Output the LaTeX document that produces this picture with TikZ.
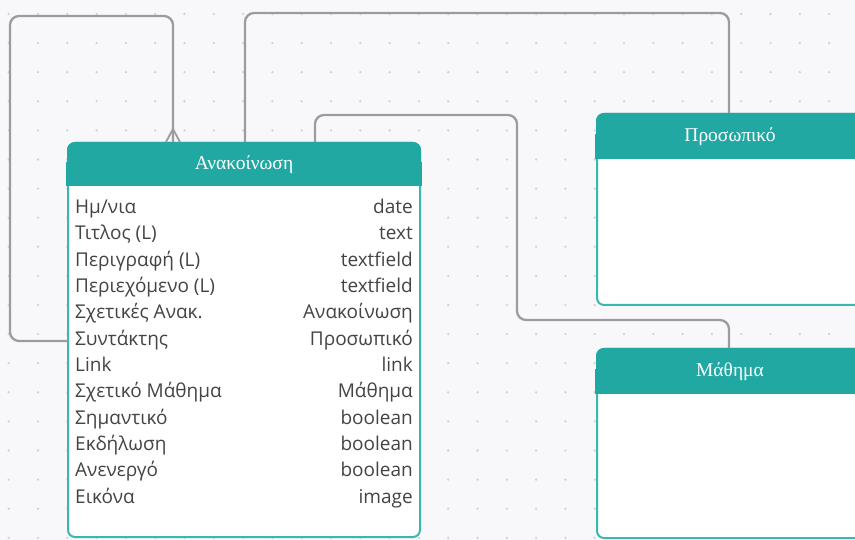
\documentclass[tikz,border=0pt]{standalone}
\usepackage{fontspec}
\setmainfont{Open Sans}
\newfontfamily\titlefont{Liberation Serif}
\usetikzlibrary{calc}
\definecolor{tealH}{RGB}{34,168,163}
\definecolor{tealB}{RGB}{58,184,176}
\definecolor{bgc}{RGB}{248,248,251}
\definecolor{dotc}{RGB}{210,210,220}
\definecolor{linec}{RGB}{156,156,160}
\definecolor{txt}{RGB}{68,68,68}
\begin{document}
\begin{tikzpicture}[x=1pt,y=-1pt,
  entity/.style={draw=tealB, line width=2pt, fill=white, rounded corners=7pt, inner sep=0pt},
  hdr/.style={fill=tealH, draw=tealH, line width=2pt, rounded corners=7pt, inner sep=0pt,
    text=white, font=\titlefont\fontsize{19.5}{22}\selectfont},
  conn/.style={draw=linec, line width=2.3pt, rounded corners=9pt},
  foot/.style={draw=linec, line width=1.8pt},
  fieldL/.style={anchor=base west, inner sep=0pt, text=txt, font=\fontsize{19}{22}\selectfont},
  fieldR/.style={anchor=base east, inner sep=0pt, text=txt, font=\fontsize{19}{22}\selectfont}]
\clip (0,0) rectangle (855,540);
\fill[bgc] (0,0) rectangle (855,540);
\foreach \i in {0,...,29}{
  \foreach \j in {0,...,18}{
    \fill[dotc] (8.7+29.3*\i, 14+29.1*\j) circle (1.3pt);
  }
}
% Ανακοίνωση
\node[entity, minimum width=352pt, minimum height=394pt] (ann) at (244,340) {};
\node[hdr, minimum width=352pt, minimum height=41pt] (hdrA) at (244,163.5) {};
\path[fill=tealH, draw=tealH, line width=2pt] (hdrA.west) rectangle (hdrA.south east);
\node[hdr, fill=none, draw=none] (tA) at ([yshift=-1pt]hdrA.center) {Ανακοίνωση};
% Προσωπικό
\node[entity, minimum width=266pt, minimum height=191pt] (pers) at (730,209.5) {};
\node[hdr, minimum width=266pt, minimum height=43pt] (hdrP) at (730,135.5) {};
\path[fill=tealH, draw=tealH, line width=2pt] (hdrP.west) rectangle (hdrP.south east);
\node[hdr, fill=none, draw=none] (tP) at ([yshift=-1pt]hdrP.center) {Προσωπικό};
% Μάθημα
\node[entity, minimum width=266pt, minimum height=189pt] (math) at (730,443.5) {};
\node[hdr, minimum width=266pt, minimum height=43pt] (hdrM) at (730,370.5) {};
\path[fill=tealH, draw=tealH, line width=2pt] (hdrM.west) rectangle (hdrM.south east);
\node[hdr, fill=none, draw=none] (tM) at ([yshift=-1pt]hdrM.center) {Μάθημα};
% fields
\foreach \l/\r [count=\i from 0] in {{Ημ/νια}/date, Τιτλος (L)/text, Περιγραφή (L)/textfield,
  Περιεχόμενο (L)/textfield, Σχετικές Ανακ./Ανακοίνωση, Συντάκτης/Προσωπικό, Link/link,
  Σχετικό Μάθημα/Μάθημα, Σημαντικό/boolean, Εκδήλωση/boolean, Ανενεργό/boolean, Εικόνα/image}{
  \node[fieldL] (fl\i) at (75, 213.5+26.32*\i) {\l};
  \node[fieldR] (fr\i) at (413, 213.5+26.32*\i) {\r};
}
% connectors
\coordinate (l1) at (10,16);
\coordinate (l2) at (173,16);
\coordinate (rowS) at (68,341);
\draw[conn] (rowS) -- (rowS -| l1) -- (l1) -- (l2) -- (hdrA.north -| l2);
\draw[foot] ($(hdrA.north -| l2)+(0,-13)$) -- ($(hdrA.north -| l2)+(-7,0)$);
\draw[foot] ($(hdrA.north -| l2)+(0,-13)$) -- ($(hdrA.north -| l2)+(7,0)$);
\coordinate (k1) at (245,13);
\coordinate (k2) at (729,13);
\draw[conn] (hdrA.north -| k1) -- (k1) -- (k2) -- (hdrP.north -| k2);
\coordinate (m1) at (315,115);
\coordinate (m2) at (517,320);
\coordinate (m3) at (729,320);
\draw[conn] (hdrA.north -| m1) -- (m1) -- (m1 -| m2) -- (m2) -- (m3) -- (hdrM.north -| m3);
\end{tikzpicture}
\end{document}
